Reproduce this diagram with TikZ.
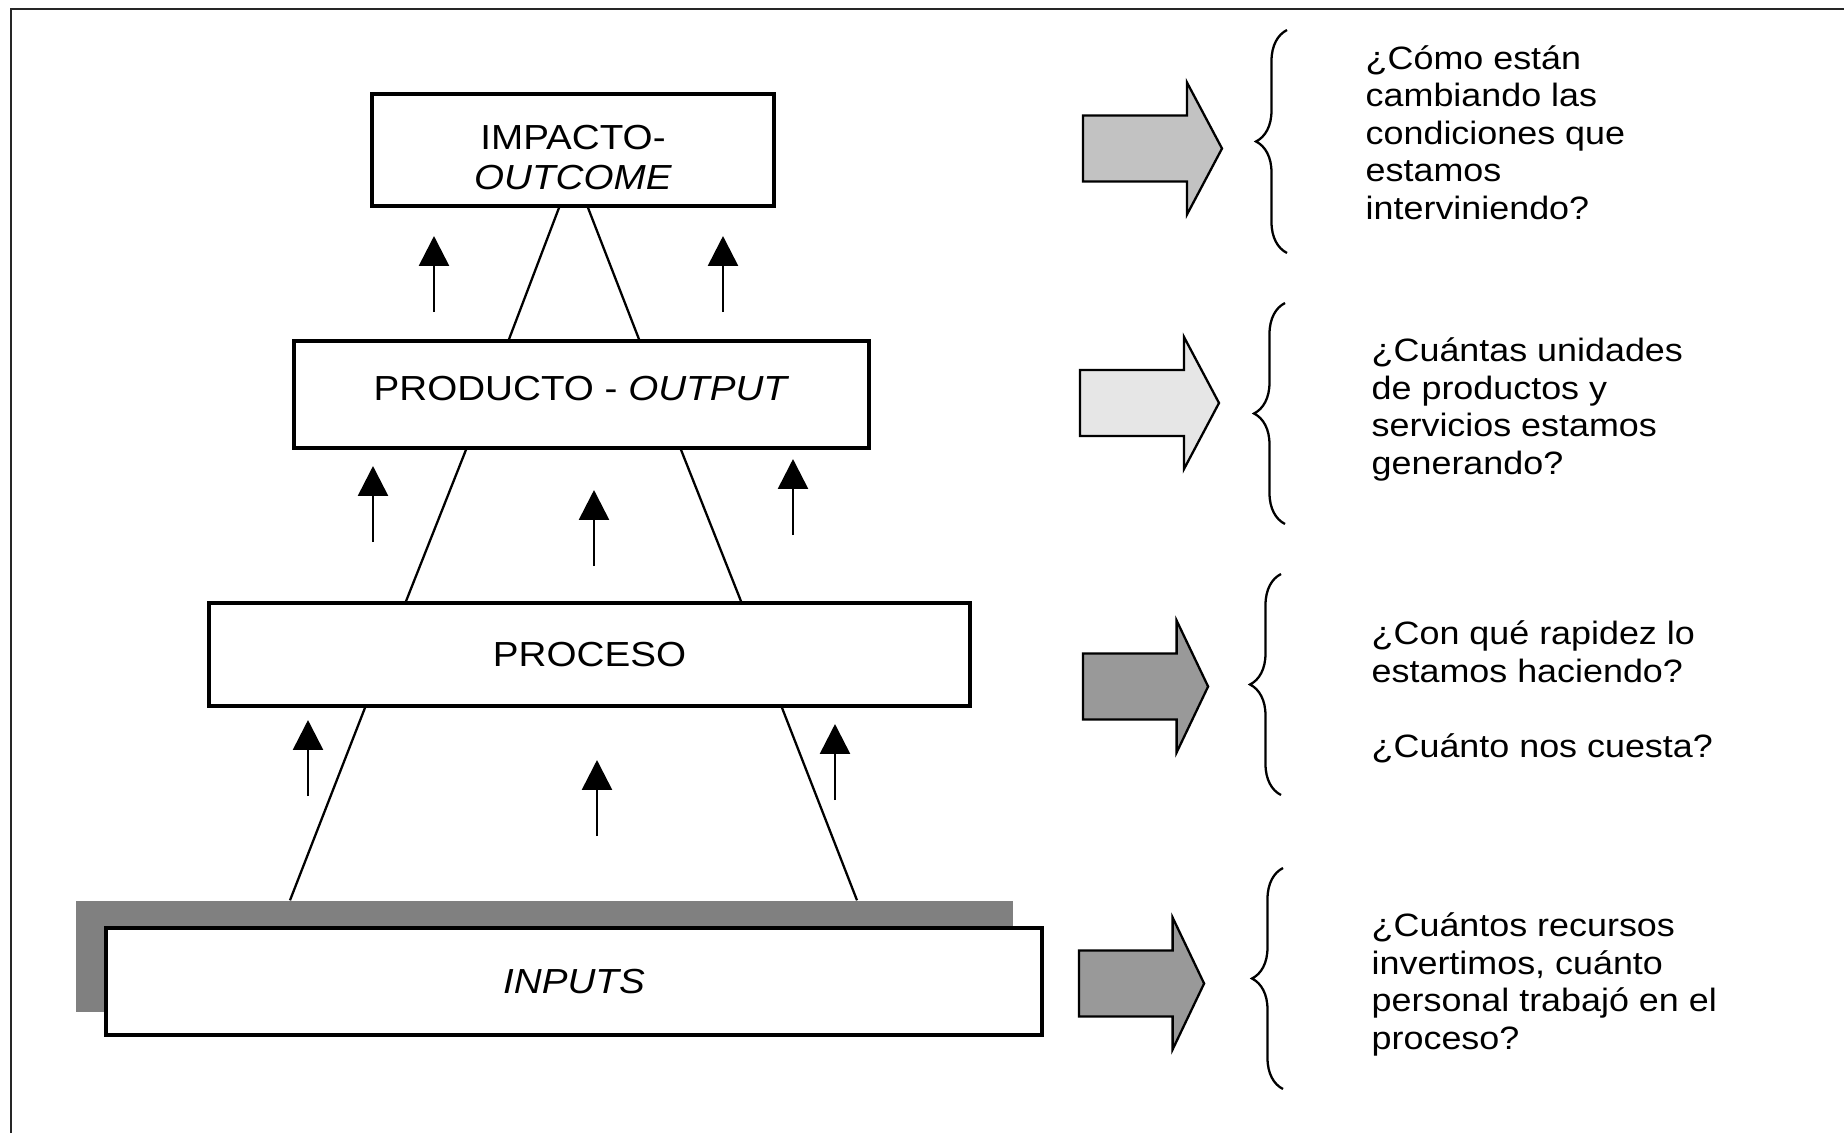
\documentclass[tikz,border=0pt]{standalone}
\usepackage{fontspec}
\setmainfont[FakeStretch=1.11]{Liberation Sans}
\usetikzlibrary{arrows.meta,calc,decorations.pathreplacing}
\definecolor{shade}{HTML}{808080}
\definecolor{grayA}{HTML}{C2C2C2}
\definecolor{grayB}{HTML}{E6E6E6}
\definecolor{grayC}{HTML}{999999}
\tikzset{blockarrow/.pic={\draw[pic actions] (0,-.33)--(1.04,-.33)--(1.04,-.66)--(1.39,0)--(1.04,.66)--(1.04,.33)--(0,.33)--cycle;}}

\begin{document}
\begin{tikzpicture}[>={Triangle[length=8.5pt,width=8.5pt]},font=\fontsize{9.9}{11.4}\selectfont,
  level/.style={draw,line width=1pt,fill=white,align=center,inner sep=0pt},
  edge/.style={line width=.65pt},
  up/.style={->,line width=.75pt},
  brc/.style={decorate,decoration={brace,amplitude=.31cm},line width=.65pt},
  ask/.style={anchor=base west,align=left,inner sep=0pt,font=\fontsize{9.2}{10.67}\selectfont}]
\useasboundingbox (0,0) rectangle (18.44,11.33);
\draw[line width=.8pt,black!85] (0.11,0)--(0.11,11.24)--(18.44,11.24);
\node[fill=shade,minimum width=9.37cm,minimum height=1.11cm,inner sep=0pt] (shd) at (5.445,1.765) {};
\node[level,minimum width=4.02cm,minimum height=1.12cm] (imp) at (5.73,9.83) {\rule{0pt}{11.1pt}IMPACTO-\\\textit{OUTCOME}};
\node[level,minimum width=5.75cm,minimum height=1.07cm] (prod) at (5.815,7.385) {\raisebox{3.4pt}{PRODUCTO - \textit{OUTPUT}}};
\node[level,minimum width=7.61cm,minimum height=1.03cm] (proc) at (5.895,4.785) {PROCESO};
\node[level,minimum width=9.36cm,minimum height=1.07cm] (inp) at (5.74,1.515) {\textit{INPUTS}};
\draw[edge] ($(imp.south)+(-.14,0)$)--($(prod.north)+(-.725,0)$);
\draw[edge] ($(imp.south)+(.15,0)$)--($(prod.north)+(.575,0)$);
\draw[edge] ($(prod.south)+(-1.155,0)$)--($(proc.north)+(-1.835,0)$);
\draw[edge] ($(prod.south)+(.995,0)$)--($(proc.north)+(1.515,0)$);
\draw[edge] ($(proc.south)+(-2.245,0)$)--($(shd.north)+(-2.545,0)$);
\draw[edge] ($(proc.south)+(1.925,0)$)--($(shd.north)+(3.125,0)$);
\foreach \x/\y in {4.34/8.21,7.23/8.21,3.73/5.91,5.94/5.67,7.93/5.98,3.08/3.37,5.97/2.97,8.35/3.33}
  \draw[up] (\x,\y)--++(0,.76);
\pic[fill=grayA,line width=.65pt] at (10.83,9.845) {blockarrow};
\pic[fill=grayB,line width=.65pt] at (10.80,7.30) {blockarrow};
\pic[fill=grayC,line width=.65pt,xscale=.9] at (10.83,4.465) {blockarrow};
\pic[fill=grayC,line width=.65pt,xscale=.9] at (10.79,1.495) {blockarrow};
\draw[brc] (12.87,8.80)--(12.87,11.03);
\draw[brc] (12.85,6.09)--(12.85,8.30);
\draw[brc] (12.81,3.38)--(12.81,5.59);
\draw[brc] (12.83,0.44)--(12.83,2.65);
\node[ask] (q1) at (13.65,9.14) {¿Cómo están\\cambiando las\\condiciones que\\estamos\\interviniendo?};
\node[ask] (q2) at (13.71,6.59) {¿Cuántas unidades\\de productos y\\servicios estamos\\generando?};
\node[ask] (q3) at (13.71,3.76) {¿Con qué rapidez lo\\estamos haciendo?\\[10.67pt]¿Cuánto nos cuesta?};
\node[ask] (q4) at (13.71,0.84) {¿Cuántos recursos\\invertimos, cuánto\\personal trabajó en el\\proceso?};
\end{tikzpicture}
\end{document}
